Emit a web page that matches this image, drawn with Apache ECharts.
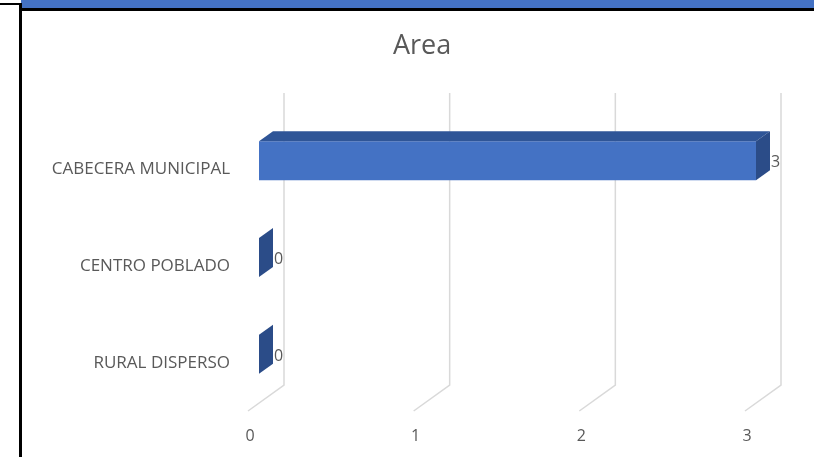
<!DOCTYPE html>
<html>
<head>
<meta charset="utf-8">
<script src="https://cdn.jsdelivr.net/npm/echarts@6/dist/echarts.min.js"></script>
<style>
html,body{margin:0;padding:0;background:#fff;}
#c{width:814px;height:457px;}
</style>
</head>
<body>
<div id="c"></div>
<script>
const categories = ['CABECERA MUNICIPAL', 'CENTRO POBLADO', 'RURAL DISPERSO'];
const values = [3, 0, 0];
const ticks = [0, 1, 2, 3];

const FONT = 'Open Sans';
const DEPTH = [36, -26];      // floor depth (front -> back wall)
const BAR_OFF = [11, -8.5];   // bar front face offset from floor front
const BAR_D = [14, -10];      // bar thickness in depth

const chart = echarts.init(document.getElementById('c'));

const gridSeries = {
  type: 'custom',
  coordinateSystem: 'cartesian2d',
  silent: true,
  z: 1,
  data: ticks.map(t => [t, 0]),
  encode: { x: 0, y: 1 },
  renderItem: function (params, api) {
    const cs = params.coordSys;
    const p = api.coord([api.value(0), 0]);
    const yFront = cs.y + cs.height;
    const x = p[0];
    return {
      type: 'polyline',
      shape: { points: [[x, yFront], [x + DEPTH[0], yFront + DEPTH[1]], [x + DEPTH[0], cs.y - 28]] },
      style: { stroke: '#D9D9D9', lineWidth: 1.5, fill: null }
    };
  }
};

const barSeries = {
  type: 'custom',
  coordinateSystem: 'cartesian2d',
  z: 2,
  data: values.map((v, i) => [v, i]),
  encode: { x: 0, y: 1 },
  renderItem: function (params, api) {
    const v = api.value(0), c = api.value(1);
    const p0 = api.coord([0, c]);
    const p1 = api.coord([v, c]);
    const band = api.size([0, 1])[1];
    const h = band * 0.404;
    const cy = p0[1] + BAR_OFF[1];
    const x0 = p0[0] + BAR_OFF[0], x1 = p1[0] + BAR_OFF[0];
    const yt = cy - h / 2, yb = cy + h / 2;
    const dx = BAR_D[0], dy = BAR_D[1];
    const children = [];
    if (x1 - x0 > 0.5) {
      children.push({ type: 'rect', shape: { x: x0, y: yt, width: x1 - x0, height: h }, style: { fill: '#4472C4' } });
      children.push({ type: 'polygon', shape: { points: [[x0, yt], [x1, yt], [x1 + dx, yt + dy], [x0 + dx, yt + dy]] }, style: { fill: '#2F5597' } });
    }
    children.push({ type: 'polygon', shape: { points: [[x1, yt], [x1 + dx, yt + dy], [x1 + dx, yb + dy], [x1, yb]] }, style: { fill: '#2B4C88' } });
    children.push({
      type: 'text',
      style: { text: String(v), x: x1 + dx + 1, y: cy + 2, textAlign: 'left', textVerticalAlign: 'middle',
               fill: '#595959', font: '16px "' + FONT + '"' }
    });
    return { type: 'group', children: children };
  }
};

chart.setOption({
  animation: false,
  backgroundColor: '#ffffff',
  title: {
    text: 'Area',
    left: 388,
    top: 28,
    textStyle: { fontFamily: FONT, fontSize: 27, fontWeight: 'normal', color: '#595959' }
  },
  graphic: [
    { type: 'rect', shape: { x: 21, y: 0, width: 793, height: 8 }, style: { fill: '#4472C4' } },
    { type: 'rect', shape: { x: 19, y: 8, width: 795, height: 3 }, style: { fill: '#000' } },
    { type: 'rect', shape: { x: 19, y: 3, width: 3, height: 454 }, style: { fill: '#000' } },
    { type: 'rect', shape: { x: 0, y: 3, width: 20, height: 2 }, style: { fill: '#000' } }
  ],
  grid: { left: 248, right: 69, top: 121, bottom: 46, containLabel: false },
  xAxis: {
    type: 'value', min: 0, max: 3, interval: 1,
    axisLine: { show: false }, axisTick: { show: false }, splitLine: { show: false },
    axisLabel: { margin: 17, color: '#595959', fontFamily: FONT, fontSize: 16, padding: [0, 0, 0, 4] }
  },
  yAxis: {
    type: 'category', data: categories, inverse: true,
    axisLine: { show: false }, axisTick: { show: false }, splitLine: { show: false },
    axisLabel: { margin: 18, color: '#595959', fontFamily: FONT, fontSize: 17, padding: [2, 0, 0, 0] }
  },
  series: [gridSeries, barSeries]
});
</script>
</body>
</html>
